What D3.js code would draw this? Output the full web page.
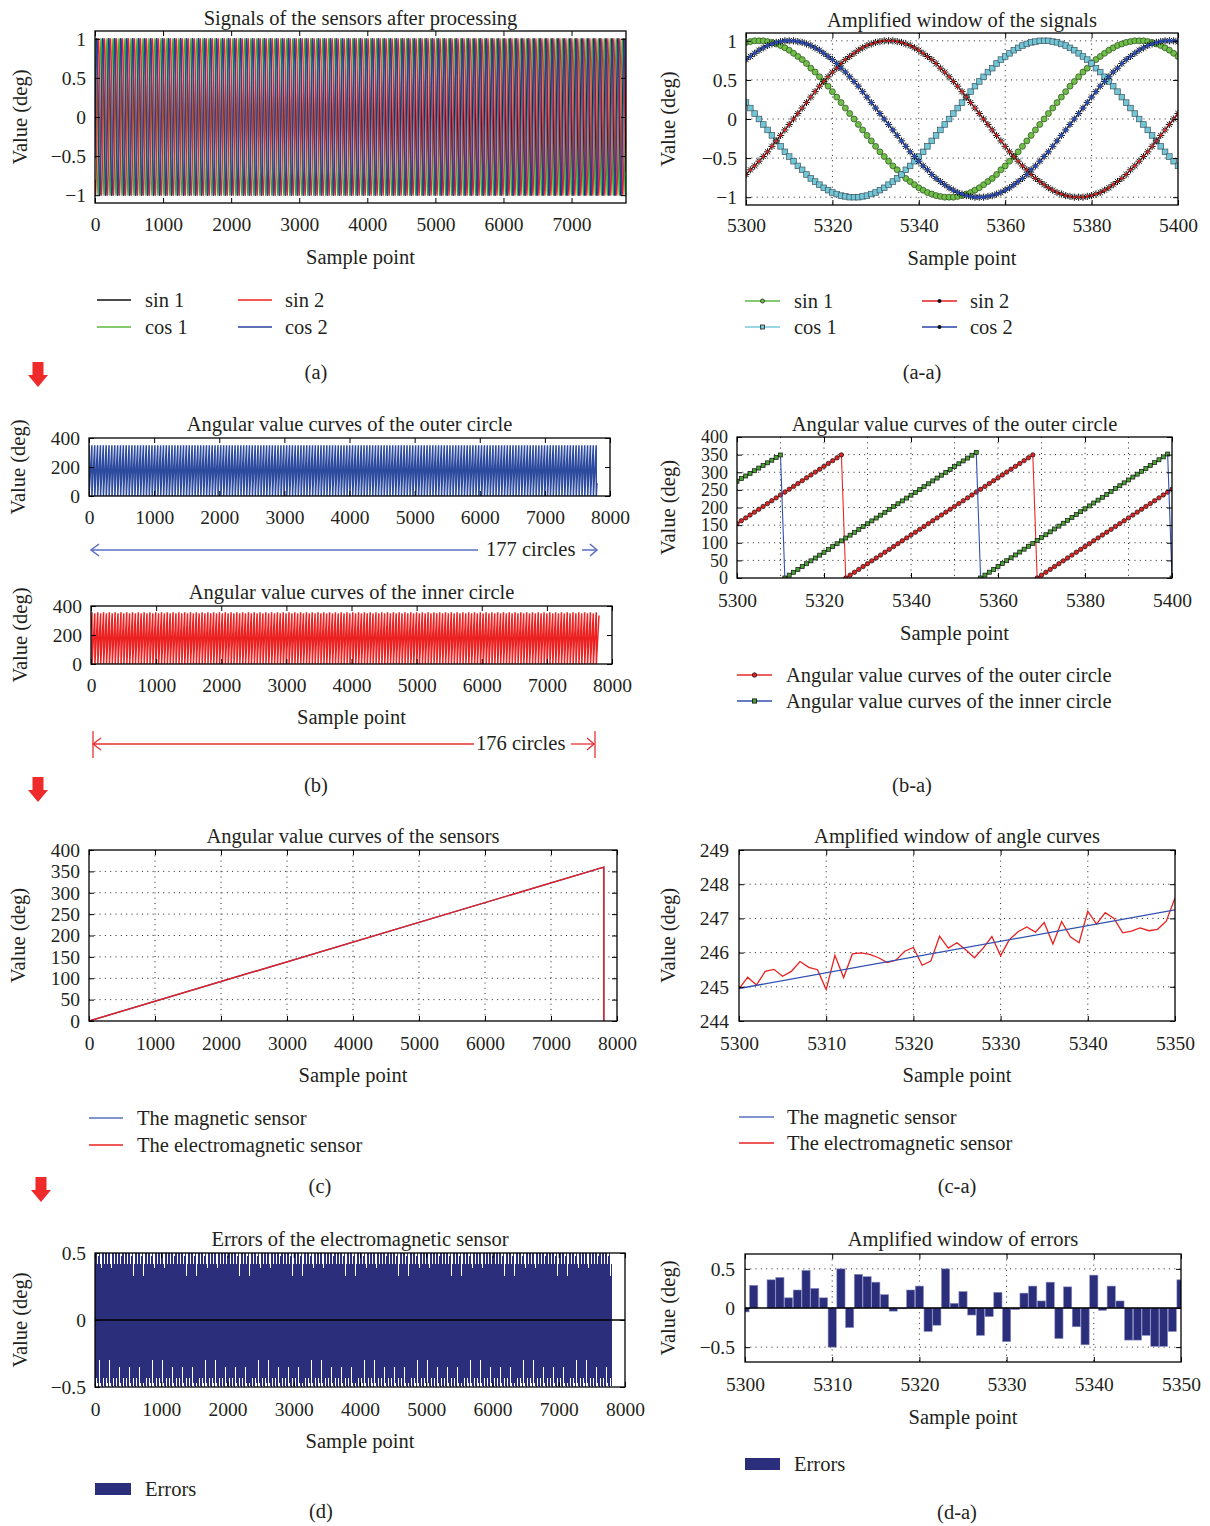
<!DOCTYPE html>
<html><head><meta charset="utf-8">
<script src="https://cdn.jsdelivr.net/npm/d3@7"></script>
<style>
body{margin:0;background:#fff;}
svg{display:block;}
</style></head><body>
<svg id="fig" width="1210" height="1526"></svg>
<script>
// ================= DATA =================
const winStart = 5300;          // first sample of every amplified window
const totalSamples = 7800;      // length of the full records

// (a-a) processed signals, samples 5300..5400
const sin1Win = [0.98,0.99,1.00,
1.00,1.00,0.99,0.98,0.96,0.94,0.91,0.88,0.84,0.80,0.76,0.71,0.65,0.60,0.54,0.48,0.42,0.35,0.28,0.21,0.14,0.07,0.00,-0.07,-0.14,-0.21,-0.28,-0.35,-0.42,-0.48,-0.54,-0.60,-0.65,-0.71,-0.76,-0.80,-0.84,-0.88,-0.91,-0.94,-0.96,-0.98,-0.99,-1.00,-1.00,
-1.00,-0.99,-0.98,-0.96,-0.94,-0.91,-0.88,-0.84,-0.80,-0.76,-0.71,-0.65,-0.60,-0.54,-0.48,-0.42,-0.35,-0.28,-0.21,-0.14,-0.07,0.00,0.07,0.14,0.21,0.28,0.35,0.42,0.48,0.54,0.60,0.65,0.71,0.76,0.80,0.84,0.88,0.91,0.94,0.96,0.98,0.99,1.00,1.00,
1.00,0.99,0.98,0.96,0.94,0.91,0.88,0.84,0.80];
const cos1Win = [0.21,0.14,0.07,0.00,-0.07,-0.14,-0.21,-0.28,-0.35,-0.42,-0.48,-0.54,-0.60,-0.65,-0.71,-0.76,-0.80,-0.84,-0.88,-0.91,-0.94,-0.96,-0.98,-0.99,-1.00,-1.00,
-1.00,-0.99,-0.98,-0.96,-0.94,-0.91,-0.88,-0.84,-0.80,-0.76,-0.71,-0.65,-0.60,-0.54,-0.48,-0.42,-0.35,-0.28,-0.21,-0.14,-0.07,0.00,0.07,0.14,0.21,0.28,0.35,0.42,0.48,0.54,0.60,0.65,0.71,0.76,0.80,0.84,0.88,0.91,0.94,0.96,0.98,0.99,1.00,1.00,
1.00,0.99,0.98,0.96,0.94,0.91,0.88,0.84,0.80,0.76,0.71,0.65,0.60,0.54,0.48,0.42,0.35,0.28,0.21,0.14,0.07,0.00,-0.07,-0.14,-0.21,-0.28,-0.35,-0.42,-0.48,-0.54,-0.60];
const sin2Win = [-0.71,-0.65,-0.60,-0.54,-0.48,-0.42,-0.35,-0.28,-0.21,-0.14,-0.07,0.00,0.07,0.14,0.21,0.28,0.35,0.42,0.48,0.54,0.60,0.65,0.71,0.76,0.80,0.84,0.88,0.91,0.94,0.96,0.98,0.99,1.00,1.00,
1.00,0.99,0.98,0.96,0.94,0.91,0.88,0.84,0.80,0.76,0.71,0.65,0.60,0.54,0.48,0.42,0.35,0.28,0.21,0.14,0.07,0.00,-0.07,-0.14,-0.21,-0.28,-0.35,-0.42,-0.48,-0.54,-0.60,-0.65,-0.71,-0.76,-0.80,-0.84,-0.88,-0.91,-0.94,-0.96,-0.98,-0.99,-1.00,-1.00,
-1.00,-0.99,-0.98,-0.96,-0.94,-0.91,-0.88,-0.84,-0.80,-0.76,-0.71,-0.65,-0.60,-0.54,-0.48,-0.42,-0.35,-0.28,-0.21,-0.14,-0.07,0.00,0.07];
const cos2Win = [0.76,0.80,0.84,0.88,0.91,0.94,0.96,0.98,0.99,1.00,1.00,
1.00,0.99,0.98,0.96,0.94,0.91,0.88,0.84,0.80,0.76,0.71,0.65,0.60,0.54,0.48,0.42,0.35,0.28,0.21,0.14,0.07,0.00,-0.07,-0.14,-0.21,-0.28,-0.35,-0.42,-0.48,-0.54,-0.60,-0.65,-0.71,-0.76,-0.80,-0.84,-0.88,-0.91,-0.94,-0.96,-0.98,-0.99,-1.00,-1.00,
-1.00,-0.99,-0.98,-0.96,-0.94,-0.91,-0.88,-0.84,-0.80,-0.76,-0.71,-0.65,-0.60,-0.54,-0.48,-0.42,-0.35,-0.28,-0.21,-0.14,-0.07,0.00,0.07,0.14,0.21,0.28,0.35,0.42,0.48,0.54,0.60,0.65,0.71,0.76,0.80,0.84,0.88,0.91,0.94,0.96,0.98,0.99,1.00,1.00,
1.00,0.99];
const signalPeriod = 88;        // samples per signal cycle (read from (a-a))

// (b-a) angular values, samples 5300..5400
const outerWin = [154.3,162.4,170.5,178.6,186.8,194.9,203.0,211.1,219.2,227.4,235.5,243.6,251.7,259.8,268.0,276.1,284.2,292.3,300.4,308.6,316.7,324.8,332.9,341.0,349.2,
0,8.1,16.2,24.4,32.5,40.6,48.7,56.8,65.0,73.1,81.2,89.3,97.4,105.6,113.7,121.8,129.9,138.0,146.2,154.3,162.4,170.5,178.6,186.8,194.9,203.0,211.1,219.2,227.4,235.5,243.6,251.7,259.8,268.0,276.1,284.2,292.3,300.4,308.6,316.7,324.8,332.9,341.0,349.2,
0,8.1,16.2,24.4,32.5,40.6,48.7,56.8,65.0,73.1,81.2,89.3,97.4,105.6,113.7,121.8,129.9,138.0,146.2,154.3,162.4,170.5,178.6,186.8,194.9,203.0,211.1,219.2,227.4,235.5,243.6,251.7];
const innerWin = [274.5,282.0,289.4,296.9,304.3,311.8,319.2,326.7,334.1,341.6,349.0,
0,8.1,16.2,24.3,32.4,40.5,48.6,56.7,64.8,72.9,81.0,89.1,97.2,105.3,113.4,121.5,129.6,137.7,145.8,153.9,162.0,170.1,178.2,186.3,194.4,202.5,210.6,218.7,226.8,234.9,243.0,251.1,259.2,267.3,275.4,283.5,291.6,299.7,307.8,315.9,324.0,332.1,340.2,348.3,356.4,
0,8.2,16.4,24.5,32.7,40.9,49.1,57.3,65.4,73.6,81.8,90.0,98.2,106.3,114.5,122.7,130.9,139.1,147.2,155.4,163.6,171.8,180.0,188.1,196.3,204.5,212.7,220.9,229.0,237.2,245.4,253.6,261.8,269.9,278.1,286.3,294.5,302.7,310.8,319.0,327.2,335.4,343.6,351.7,
0];
const outerPeriod = 44;         // samples per outer-circle revolution
const innerPeriod = 89;         // two inner revolutions (45 + 44 samples)

// (c) full angle curves
const angleX = [0, 7800, 7800];
const magneticY = [0, 360, 0];
const electroY = [0, 360, 0];
// (c-a) amplified angle curves
const angleWinX = [5300, 5350];
const magneticWinY = [244.95, 247.25];
const electroWinY = [244.94,245.28,245.05,245.45,245.51,245.31,245.45,245.74,245.57,245.50,
244.92,245.92,245.27,245.96,245.99,245.95,245.85,245.71,245.78,246.04,
246.15,245.63,245.75,246.48,246.13,246.29,246.08,245.85,246.13,246.47,
245.91,246.38,246.61,246.75,246.60,246.88,246.25,246.91,246.46,246.29,
247.21,246.83,247.17,247.00,246.58,246.63,246.72,246.64,246.68,246.92,
247.60];
// (d-a) errors, samples 5300..5350
const errorWin = [-0.05,0.29,0.00,0.36,0.39,0.13,0.23,0.48,0.25,0.13,
-0.50,0.50,-0.25,0.43,0.40,0.33,0.17,-0.04,-0.01,0.23,
0.28,-0.30,-0.22,0.50,0.06,0.21,-0.09,-0.35,-0.11,0.20,
-0.43,-0.02,0.19,0.28,0.09,0.33,-0.39,0.27,-0.24,-0.47,
0.42,-0.03,0.28,0.09,-0.41,-0.41,-0.35,-0.49,-0.49,-0.30,
0.36];
const errorPeriod = 50;

// tick values / labels
const ticksFull7 = [0,1000,2000,3000,4000,5000,6000,7000];
const ticksFull8 = [0,1000,2000,3000,4000,5000,6000,7000,8000];
const ticksSig = [-1,-0.5,0,0.5,1];
const ticksWin100 = [5300,5320,5340,5360,5380,5400];
const gridWin100by10 = [5310,5320,5330,5340,5350,5360,5370,5380,5390];
const ticksWin50 = [5300,5310,5320,5330,5340,5350];
const ticksAng3 = [0,200,400];
const ticksAng50 = [0,50,100,150,200,250,300,350,400];
const ticksAngWin = [244,245,246,247,248,249];
const ticksErr = [-0.5,0,0.5];

// ================= DRAWING =================
const FONT = '"Liberation Serif","Times New Roman",serif';
const FS = 20.5;     // titles, labels, legends
const TFS = 19.5;    // tick labels
const TXT = '#231f20';
const svg = d3.select('#fig').attr('font-family', FONT);
const fmt = d3.format('');
let clipN = 0;

function tileSeries(win, period, n) {
  return d3.range(n + 1).map(i => win[((i - winStart) % period + period) % period]);
}

function panel(o) {
  const x = d3.scaleLinear().domain(o.xd).range([o.L, o.R]);
  const y = d3.scaleLinear().domain(o.yd).range([o.B, o.T]);
  const g = svg.append('g');
  const id = 'clip' + (clipN++);
  svg.append('clipPath').attr('id', id).append('rect')
    .attr('x', o.L).attr('y', o.T).attr('width', o.R - o.L).attr('height', o.B - o.T);
  const dash = '1,4.3';
  if (o.xg) g.append('g').selectAll('line').data(o.xg).join('line')
    .attr('x1', d => x(d)).attr('x2', d => x(d)).attr('y1', o.T).attr('y2', o.B)
    .attr('stroke', '#222').attr('stroke-width', 1).attr('stroke-dasharray', dash);
  if (o.yg) g.append('g').selectAll('line').data(o.yg).join('line')
    .attr('y1', d => y(d)).attr('y2', d => y(d)).attr('x1', o.L).attr('x2', o.R)
    .attr('stroke', '#222').attr('stroke-width', 1).attr('stroke-dasharray', dash);
  const plot = g.append('g').attr('clip-path', `url(#${id})`);
  function styleAx(a, fs) {
    a.attr('font-size', fs).attr('font-family', FONT);
    a.select('.domain').remove();
    a.selectAll('.tick line').attr('stroke', '#000').attr('stroke-width', 1);
    a.selectAll('text').attr('fill', TXT);
  }
  function finish() {
    const ax = svg.append('g');
    ax.append('g').attr('transform', `translate(0,${o.B})`)
      .call(d3.axisBottom(x).tickValues(o.xt).tickFormat(fmt).tickSizeInner(-5).tickSizeOuter(0).tickPadding(o.xpad || 14))
      .call(a => styleAx(a, TFS));
    ax.append('g').attr('transform', `translate(0,${o.T})`)
      .call(d3.axisTop(x).tickValues(o.xt).tickFormat(() => '').tickSizeInner(-5).tickSizeOuter(0))
      .call(a => styleAx(a, TFS));
    ax.append('g').attr('transform', `translate(${o.L},0)`)
      .call(d3.axisLeft(y).tickValues(o.yt).tickFormat(fmt).tickSizeInner(-5).tickSizeOuter(0).tickPadding(o.ypad || 9))
      .call(a => styleAx(a, o.yfs || TFS));
    ax.append('g').attr('transform', `translate(${o.R},0)`)
      .call(d3.axisRight(y).tickValues(o.yt).tickFormat(() => '').tickSizeInner(-5).tickSizeOuter(0))
      .call(a => styleAx(a, TFS));
    ax.append('rect').attr('x', o.L).attr('y', o.T).attr('width', o.R - o.L).attr('height', o.B - o.T)
      .attr('fill', 'none').attr('stroke', '#000').attr('stroke-width', 1.3);
    const tx = o.titleX !== undefined ? o.titleX : (o.L + o.R) / 2;
    svg.append('text').attr('x', tx).attr('y', o.titleY).attr('dy', '0.35em')
      .attr('text-anchor', 'middle').attr('font-size', FS).attr('fill', TXT).text(o.title);
    if (o.xlabY) svg.append('text').attr('x', (o.L + o.R) / 2).attr('y', o.xlabY).attr('dy', '0.35em')
      .attr('text-anchor', 'middle').attr('font-size', FS).attr('fill', TXT).text('Sample point');
    svg.append('text').attr('transform', `translate(${o.ylabX},${(o.T + o.B) / 2}) rotate(-90)`)
      .attr('dy', '0.35em').attr('text-anchor', 'middle').attr('font-size', FS).attr('fill', TXT).text('Value (deg)');
  }
  return { x, y, plot, finish };
}

function caption(txt, cx, cy) {
  svg.append('text').attr('x', cx).attr('y', cy).attr('dy', '0.35em').attr('text-anchor', 'middle')
    .attr('font-size', FS).attr('fill', TXT).text(txt);
}
function legendText(txt, x, y) {
  svg.append('text').attr('x', x).attr('y', y).attr('dy', '0.35em').attr('font-size', FS).attr('fill', TXT).text(txt);
}
function legendLine(x1, x2, y, color) {
  svg.append('line').attr('x1', x1).attr('x2', x2).attr('y1', y).attr('y2', y).attr('stroke', color).attr('stroke-width', 1.3);
}
const starPath = 'M-3.6,0H3.6M0,-3.6V3.6M-2.6,-2.6L2.6,2.6M-2.6,2.6L2.6,-2.6';

// ---------- (a) ----------
{
  const p = panel({L:95,R:626,T:31,B:203,xd:[0,7800],yd:[-1.1,1.1],xt:ticksFull7,yt:ticksSig,
    title:'Signals of the sensors after processing',titleY:18,xlabY:257,ylabX:20,xpad:14});
  const series = [[sin1Win,'#111111'],[cos1Win,'#3aa83a'],[sin2Win,'#ee2020'],[cos2Win,'#2c3f9c']];
  const line = d3.line().x((d, i) => p.x(i)).y(d => p.y(d));
  series.forEach(([w, c]) => {
    p.plot.append('path').datum(tileSeries(w, signalPeriod, totalSamples))
      .attr('d', line).attr('fill', 'none').attr('stroke', c).attr('stroke-width', 1.1);
  });
  p.finish();
  legendLine(97,131,300,'#111'); legendText('sin 1',145,300);
  legendLine(97,131,327,'#5cb840'); legendText('cos 1',145,327);
  legendLine(238,272,300,'#ee2020'); legendText('sin 2',285,300);
  legendLine(238,272,327,'#2c3f9c'); legendText('cos 2',285,327);
  caption('(a)',316,372);
}

// ---------- (a-a) ----------
{
  const p = panel({L:746,R:1178,T:33,B:205,xd:[5300,5400],yd:[-1.1,1.1],xt:ticksWin100,yt:ticksSig,
    xg:ticksWin100.slice(1,-1),yg:ticksSig,title:'Amplified window of the signals',titleY:20,xlabY:258,ylabX:668,xpad:13});
  const xs = d3.range(winStart, winStart + sin1Win.length);
  const line = d3.line().x((d, i) => p.x(xs[i])).y(d => p.y(d));
  // sin 1: green circles
  p.plot.append('path').datum(sin1Win).attr('d', line).attr('fill','none').attr('stroke','#4caa30').attr('stroke-width',1);
  p.plot.append('g').selectAll('circle').data(sin1Win).join('circle')
    .attr('cx',(d,i)=>p.x(xs[i])).attr('cy',d=>p.y(d)).attr('r',3)
    .attr('fill','#6fbe48').attr('stroke','#2a4a1c').attr('stroke-width',0.7);
  // cos 1: cyan squares
  p.plot.append('path').datum(cos1Win).attr('d', line).attr('fill','none').attr('stroke','#5fb8c8').attr('stroke-width',1);
  p.plot.append('g').selectAll('rect').data(cos1Win).join('rect')
    .attr('x',(d,i)=>p.x(xs[i])-2.8).attr('y',d=>p.y(d)-2.8).attr('width',5.6).attr('height',5.6)
    .attr('fill','#72c6d6').attr('stroke','#3b5560').attr('stroke-width',0.7);
  // sin 2: red line, black stars
  p.plot.append('path').datum(sin2Win).attr('d', line).attr('fill','none').attr('stroke','#e41e1e').attr('stroke-width',1.4);
  p.plot.append('g').selectAll('path').data(sin2Win).join('path')
    .attr('transform',(d,i)=>`translate(${p.x(xs[i])},${p.y(d)})`).attr('d',starPath)
    .attr('stroke','#111').attr('stroke-width',1).attr('fill','none');
  p.plot.append('g').selectAll('circle').data(sin2Win).join('circle')
    .attr('cx',(d,i)=>p.x(xs[i])).attr('cy',d=>p.y(d)).attr('r',1.3).attr('fill','#f02020');
  // cos 2: blue line, black stars
  p.plot.append('path').datum(cos2Win).attr('d', line).attr('fill','none').attr('stroke','#2a46a6').attr('stroke-width',1.4);
  p.plot.append('g').selectAll('path').data(cos2Win).join('path')
    .attr('transform',(d,i)=>`translate(${p.x(xs[i])},${p.y(d)})`).attr('d',starPath)
    .attr('stroke','#111').attr('stroke-width',1).attr('fill','none');
  p.plot.append('g').selectAll('circle').data(cos2Win).join('circle')
    .attr('cx',(d,i)=>p.x(xs[i])).attr('cy',d=>p.y(d)).attr('r',2).attr('fill','#2a4ab0');
  p.finish();
  // legend
  legendLine(745,780,301,'#5cb840');
  svg.append('circle').attr('cx',762.5).attr('cy',301).attr('r',2).attr('fill','#72c04a').attr('stroke','#222').attr('stroke-width',0.8);
  legendText('sin 1',794,301);
  legendLine(745,780,327,'#78cad8');
  svg.append('rect').attr('x',760.5).attr('y',325).attr('width',4).attr('height',4).attr('fill','#78cad8').attr('stroke','#222').attr('stroke-width',0.8);
  legendText('cos 1',794,327);
  legendLine(922,957,301,'#e41e1e');
  svg.append('circle').attr('cx',939.5).attr('cy',301).attr('r',2).attr('fill','#111');
  legendText('sin 2',970,301);
  legendLine(922,957,327,'#2a46a6');
  svg.append('circle').attr('cx',939.5).attr('cy',327).attr('r',2).attr('fill','#111');
  legendText('cos 2',970,327);
  caption('(a-a)',922,372);
}

// ---------- red flow arrows ----------
function flowArrow(cx, top) {
  svg.append('path')
    .attr('d', `M${cx-5.5},${top}H${cx+5.5}V${top+13}H${cx+10}L${cx},${top+25}L${cx-10},${top+13}H${cx-5.5}Z`)
    .attr('fill', '#ee2a2a');
}
flowArrow(38, 362);
flowArrow(38, 777);
flowArrow(41, 1177);

// ---------- (b) outer ----------
{
  const p = panel({L:89,R:610,T:438,B:496,xd:[0,8000],yd:[0,400],xt:ticksFull8,yt:ticksAng3,
    title:'Angular value curves of the outer circle',titleY:424,ylabX:18,xpad:14});
  const line = d3.line().x((d, i) => p.x(i)).y(d => p.y(d));
  p.plot.append('path').datum(tileSeries(outerWin, outerPeriod, totalSamples))
    .attr('d', line).attr('fill','none').attr('stroke','#2c4a9e').attr('stroke-width',1.5);
  p.finish();
  const c = '#5a6ec0';
  svg.append('line').attr('x1',91).attr('x2',478).attr('y1',550).attr('y2',550).attr('stroke',c).attr('stroke-width',1.5);
  svg.append('path').attr('d','M99,544L91,550L99,556').attr('fill','none').attr('stroke',c).attr('stroke-width',1.5);
  legendText('177 circles',486,549);
  svg.append('line').attr('x1',582).attr('x2',597).attr('y1',550).attr('y2',550).attr('stroke',c).attr('stroke-width',1.5);
  svg.append('path').attr('d','M590,544L597,550L590,556').attr('fill','none').attr('stroke',c).attr('stroke-width',1.5);
}
// ---------- (b) inner ----------
{
  const p = panel({L:91,R:612,T:606,B:664,xd:[0,8000],yd:[0,400],xt:ticksFull8,yt:ticksAng3,
    title:'Angular value curves of the inner circle',titleY:592,xlabY:717,ylabX:20,xpad:14});
  const line = d3.line().x((d, i) => p.x(i)).y(d => p.y(d));
  p.plot.append('path').datum(tileSeries(innerWin, innerPeriod, totalSamples))
    .attr('d', line).attr('fill','none').attr('stroke','#ec2222').attr('stroke-width',1.5);
  p.finish();
  const c = '#e83030';
  svg.append('line').attr('x1',93).attr('x2',93).attr('y1',731).attr('y2',758).attr('stroke',c).attr('stroke-width',1.3);
  svg.append('line').attr('x1',595).attr('x2',595).attr('y1',731).attr('y2',758).attr('stroke',c).attr('stroke-width',1.3);
  svg.append('line').attr('x1',93).attr('x2',474).attr('y1',744).attr('y2',744).attr('stroke',c).attr('stroke-width',1.3);
  svg.append('path').attr('d','M101,738L93,744L101,750').attr('fill','none').attr('stroke',c).attr('stroke-width',1.3);
  legendText('176 circles',476,743);
  svg.append('line').attr('x1',571).attr('x2',594).attr('y1',744).attr('y2',744).attr('stroke',c).attr('stroke-width',1.3);
  svg.append('path').attr('d','M587,738L594,744L587,750').attr('fill','none').attr('stroke',c).attr('stroke-width',1.3);
  caption('(b)',316,785);
}

// ---------- (b-a) ----------
{
  const p = panel({L:737,R:1172,T:437,B:578,xd:[5300,5400],yd:[0,400],xt:ticksWin100,yt:ticksAng50,
    xg:gridWin100by10,yg:ticksAng50.slice(1,-1),title:'Angular value curves of the outer circle',titleY:424,
    xlabY:633,ylabX:668,xpad:15,ypad:9,yfs:18});
  const xs = d3.range(winStart, winStart + outerWin.length);
  const line = d3.line().x((d, i) => p.x(xs[i])).y(d => p.y(d));
  p.plot.append('path').datum(outerWin).attr('d', line).attr('fill','none').attr('stroke','#e82828').attr('stroke-width',1.1);
  p.plot.append('g').selectAll('circle').data(outerWin).join('circle')
    .attr('cx',(d,i)=>p.x(xs[i])).attr('cy',d=>p.y(d)).attr('r',2.2)
    .attr('fill','#e52222').attr('stroke','#111').attr('stroke-width',0.7);
  p.plot.append('path').datum(innerWin).attr('d', line).attr('fill','none').attr('stroke','#3050b0').attr('stroke-width',1.1);
  p.plot.append('g').selectAll('rect').data(innerWin).join('rect')
    .attr('x',(d,i)=>p.x(xs[i])-2).attr('y',d=>p.y(d)-2).attr('width',4).attr('height',4)
    .attr('fill','#4aa032').attr('stroke','#111').attr('stroke-width',0.7);
  p.finish();
  legendLine(737,772,675,'#e82828');
  svg.append('circle').attr('cx',754.5).attr('cy',675).attr('r',2.2).attr('fill','#e52222').attr('stroke','#111').attr('stroke-width',0.8);
  legendText('Angular value curves of the outer circle',786,675);
  legendLine(737,772,701,'#3050b0');
  svg.append('rect').attr('x',752.4).attr('y',698.9).attr('width',4.2).attr('height',4.2).attr('fill','#4aa032').attr('stroke','#111').attr('stroke-width',0.8);
  legendText('Angular value curves of the inner circle',786,701);
  caption('(b-a)',912,785);
}

// ---------- (c) ----------
{
  const p = panel({L:89,R:617,T:850,B:1021,xd:[0,8000],yd:[0,400],xt:ticksFull8,yt:ticksAng50,
    xg:ticksFull8.slice(1,-1),yg:ticksAng50.slice(1,-1),title:'Angular value curves of the sensors',titleY:836,
    xlabY:1075,ylabX:18,xpad:15,ypad:9});
  const line = d3.line().x((d, i) => p.x(angleX[i])).y(d => p.y(d));
  p.plot.append('path').datum(magneticY).attr('d', line).attr('fill','none').attr('stroke','#3050b0').attr('stroke-width',1.4);
  p.plot.append('path').datum(electroY).attr('d', line).attr('fill','none').attr('stroke','#e82020').attr('stroke-width',1.4);
  p.finish();
  legendLine(89,123,1118,'#5a72c0'); legendText('The magnetic sensor',137,1118);
  legendLine(89,123,1145,'#e82020'); legendText('The electromagnetic sensor',137,1145);
  caption('(c)',320,1186);
}

// ---------- (c-a) ----------
{
  const p = panel({L:739,R:1175,T:850,B:1021,xd:[5300,5350],yd:[244,249],xt:ticksWin50,yt:ticksAngWin,
    xg:ticksWin50.slice(1,-1),yg:ticksAngWin.slice(1,-1),title:'Amplified window of angle curves',titleY:836,
    xlabY:1075,ylabX:668,xpad:15,ypad:10});
  const xs = d3.range(winStart, winStart + electroWinY.length);
  p.plot.append('path').datum(electroWinY)
    .attr('d', d3.line().x((d, i) => p.x(xs[i])).y(d => p.y(d)))
    .attr('fill','none').attr('stroke','#e82020').attr('stroke-width',1.3);
  p.plot.append('path').datum(magneticWinY)
    .attr('d', d3.line().x((d, i) => p.x(angleWinX[i])).y(d => p.y(d)))
    .attr('fill','none').attr('stroke','#3050b0').attr('stroke-width',1.3);
  p.finish();
  legendLine(739,774,1117,'#5a72c0'); legendText('The magnetic sensor',787,1117);
  legendLine(739,774,1143,'#e82020'); legendText('The electromagnetic sensor',787,1143);
  caption('(c-a)',957,1186);
}

// ---------- (d) ----------
{
  const p = panel({L:95,R:625,T:1253,B:1387,xd:[0,8000],yd:[-0.5,0.5],xt:ticksFull8,yt:ticksErr,
    title:'Errors of the electromagnetic sensor',titleY:1239,xlabY:1441,ylabX:20,xpad:15,ypad:9});
  const errFull = tileSeries(errorWin, errorPeriod, totalSamples);
  // per-pixel-column min/max of the bars (display decimation)
  const c0 = Math.round(p.x(0)), c1 = Math.round(p.x(totalSamples));
  const cols = d3.range(c0, c1).map(c => {
    const s0 = Math.max(0, Math.ceil(p.x.invert(c))), s1 = Math.min(totalSamples, Math.floor(p.x.invert(c + 1)));
    let mx = 0, mn = 0;
    for (let s = s0; s <= s1; s++) { mx = Math.max(mx, errFull[s]); mn = Math.min(mn, errFull[s]); }
    return { c, mx, mn };
  });
  p.plot.append('g').attr('shape-rendering','crispEdges').selectAll('rect').data(cols).join('rect')
    .attr('x', d => d.c).attr('width', 1).attr('y', d => p.y(d.mx)).attr('height', d => p.y(d.mn) - p.y(d.mx))
    .attr('fill', '#2b2e7a');
  p.plot.append('line').attr('x1',p.x(0)).attr('x2',625).attr('y1',p.y(0)).attr('y2',p.y(0)).attr('stroke','#000').attr('stroke-width',1.4);
  p.finish();
  svg.append('rect').attr('x',95).attr('y',1483).attr('width',36).attr('height',12).attr('fill','#2b2e7a');
  legendText('Errors',145,1489);
  caption('(d)',321,1511);
}

// ---------- (d-a) ----------
{
  const p = panel({L:745,R:1181,T:1254,B:1362,xd:[5300,5350],yd:[-0.69,0.69],xt:ticksWin50,yt:ticksErr,
    xg:ticksWin50.slice(1,-1),yg:[-0.5,0.5],title:'Amplified window of errors',titleY:1239,
    xlabY:1417,ylabX:668,xpad:15,ypad:10});
  const xs = d3.range(winStart, winStart + errorWin.length);
  const hw = 0.47;
  p.plot.append('g').selectAll('rect').data(errorWin).join('rect')
    .attr('x',(d,i)=>p.x(xs[i]-hw)).attr('width',(d,i)=>p.x(xs[i]+hw)-p.x(xs[i]-hw))
    .attr('y',d=>p.y(Math.max(d,0))).attr('height',d=>Math.abs(p.y(d)-p.y(0)))
    .attr('fill','#2b2e7a').attr('stroke','#8a8cc0').attr('stroke-width',0.6);
  p.plot.append('line').attr('x1',745).attr('x2',1181).attr('y1',p.y(0)).attr('y2',p.y(0)).attr('stroke','#000').attr('stroke-width',1.4);
  p.finish();
  svg.append('rect').attr('x',745).attr('y',1458).attr('width',35).attr('height',12).attr('fill','#2b2e7a');
  legendText('Errors',794,1464);
  caption('(d-a)',957,1512);
}
</script>
</body></html>
